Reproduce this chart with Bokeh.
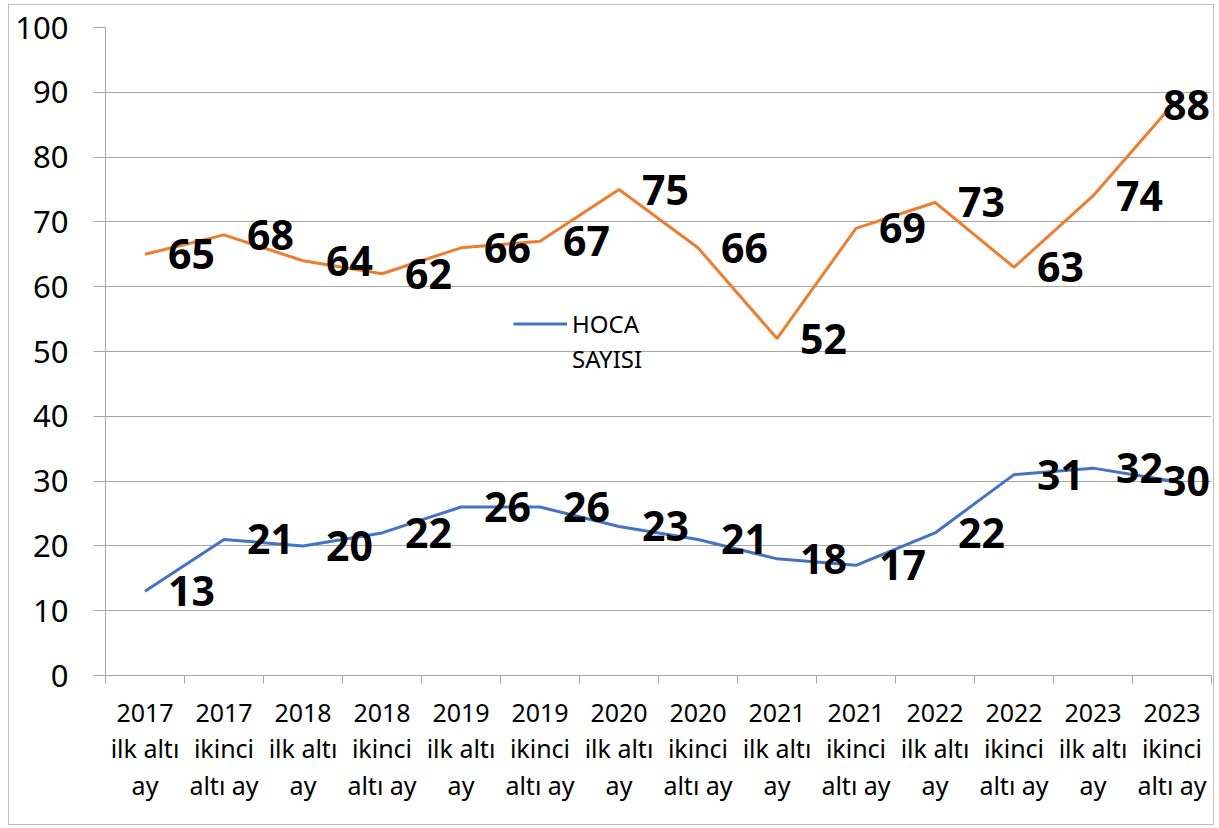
from bokeh.plotting import figure
from bokeh.models import Range1d, FixedTicker, Legend, LegendItem, ColumnDataSource
from bokeh.core.properties import value
from bokeh.embed import file_html
from bokeh.resources import INLINE

# ---- data ----
categories = [
    "2017\nilk altı\nay", "2017\nikinci\naltı ay",
    "2018\nilk altı\nay", "2018\nikinci\naltı ay",
    "2019\nilk altı\nay", "2019\nikinci\naltı ay",
    "2020\nilk altı\nay", "2020\nikinci\naltı ay",
    "2021\nilk altı\nay", "2021\nikinci\naltı ay",
    "2022\nilk altı\nay", "2022\nikinci\naltı ay",
    "2023\nilk altı\nay", "2023\nikinci\naltı ay",
]
hoca_sayisi = [13, 21, 20, 22, 26, 26, 23, 21, 18, 17, 22, 31, 32, 30]
ikinci_seri = [65, 68, 64, 62, 66, 67, 75, 66, 52, 69, 73, 63, 74, 88]
y_ticks = [0, 10, 20, 30, 40, 50, 60, 70, 80, 90, 100]
legend_lines = ["HOCA", "SAYISI"]

# ---- styles ----
BLUE = "#4472C4"
ORANGE = "#ED7D31"
GRID = "#A6A6A6"
FONT = "Noto Sans"
label_dx = [23] * (len(categories) - 1) + [-9]

xs = list(range(len(categories)))

p = figure(width=1206, height=821, output_backend="svg", toolbar_location=None,
           x_range=Range1d(-0.5, len(categories) - 0.5), y_range=Range1d(0, 100),
           min_border_left=96, min_border_right=4, min_border_top=22, min_border_bottom=151)
p.outline_line_color = None
p.background_fill_color = "white"
p.border_fill_color = "white"
p.styles = {"border": "1px solid #BFBFBF", "margin-left": "8px", "margin-top": "4px"}

# axes
p.xaxis.ticker = FixedTicker(ticks=xs, minor_ticks=[i - 0.5 for i in range(len(categories) + 1)])
p.xaxis.major_label_overrides = {i: c for i, c in enumerate(categories)}
p.xaxis.major_tick_out = 0
p.xaxis.major_tick_in = 0
p.xaxis.minor_tick_out = 8
p.xaxis.minor_tick_in = 0
p.xaxis.minor_tick_line_color = GRID
p.xaxis.axis_line_color = GRID
p.xaxis.major_label_text_font = FONT
p.xaxis.major_label_text_font_size = "25px"
p.xaxis.major_label_text_color = "black"
p.xaxis.major_label_text_line_height = 1.087
p.xaxis.major_label_standoff = 11

p.yaxis.ticker = FixedTicker(ticks=y_ticks)
p.yaxis.major_tick_out = 12
p.yaxis.major_tick_in = 0
p.yaxis.minor_tick_line_color = None
p.yaxis.major_tick_line_color = GRID
p.yaxis.axis_line_color = GRID
p.yaxis.major_label_text_font = FONT
p.yaxis.major_label_text_font_size = "31px"
p.yaxis.major_label_text_color = "black"
p.yaxis.major_label_standoff = 25

p.xgrid.grid_line_color = None
p.ygrid.grid_line_color = GRID
p.ygrid.ticker = FixedTicker(ticks=y_ticks)

# lines
src = ColumnDataSource(dict(x=xs, blue=hoca_sayisi, orange=ikinci_seri,
                            tb=[str(v) for v in hoca_sayisi],
                            to=[str(v) for v in ikinci_seri], dx=label_dx))
r_orange = p.line("x", "orange", source=src, line_color=ORANGE, line_width=3)
r_blue = p.line("x", "blue", source=src, line_color=BLUE, line_width=3)
# empty renderer so the legend's second text line has no glyph
r_blank = p.line(x=[], y=[], line_alpha=0)

for col, tcol in (("orange", "to"), ("blue", "tb")):
    p.text("x", col, text=tcol, source=src, x_offset="dx", y_offset=0,
           text_align="left", text_baseline="middle",
           text_font=value(FONT), text_font_style="bold", text_font_size="41px",
           text_color="black")

legend = Legend(items=[LegendItem(label=legend_lines[0], renderers=[r_blue]),
                       LegendItem(label=legend_lines[1], renderers=[r_blank])],
                location=(408, 300), orientation="vertical",
                border_line_color=None, background_fill_alpha=0,
                padding=0, margin=0, spacing=2, glyph_width=54, glyph_height=33,
                label_height=33, label_standoff=5,
                label_text_font=FONT, label_text_font_size="24px",
                label_text_color="black")
p.add_layout(legend, "center")

open("out.html", "w").write(file_html(p, INLINE))
